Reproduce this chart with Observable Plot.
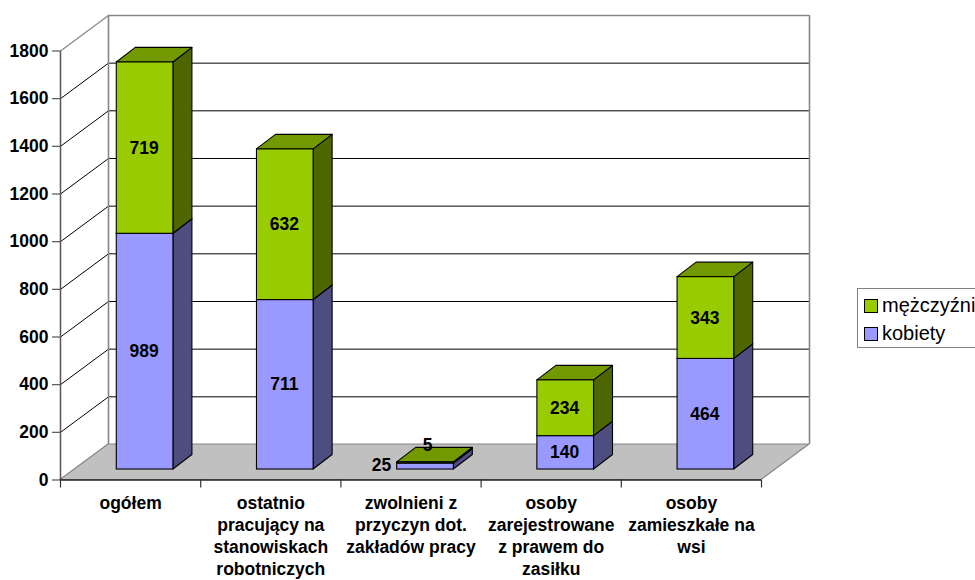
<!DOCTYPE html>
<html><head><meta charset="utf-8">
<script src="https://cdn.jsdelivr.net/npm/d3@7"></script>
<script src="https://cdn.jsdelivr.net/npm/@observablehq/plot@0.6"></script>
<style>
html,body{margin:0;padding:0;background:#fff;overflow:hidden;width:975px;height:580px}
#chart{position:relative;width:975px;height:580px;overflow:hidden}
#legend{position:absolute;left:857px;top:288px;width:140px;height:58px;border:1px solid #808080;box-sizing:content-box;font:20px "Liberation Sans",Arial,sans-serif;color:#000;background:#fff}
#legend div{position:absolute;left:6px;white-space:nowrap;line-height:20px;height:20px}
#legend i{display:inline-block;width:12px;height:12px;border:1px solid #000;margin-right:4px;vertical-align:-1px}
</style></head><body>
<div id="chart"></div>
<script>
const categories = ["ogółem","ostatnio\npracujący na\nstanowiskach\nrobotniczych","zwolnieni z\nprzyczyn dot.\nzakładów pracy","osoby\nzarejestrowane\nz prawem do\nzasiłku","osoby\nzamieszkałe na\nwsi"];
const kobiety = [989,711,25,140,464];
const mezczyzni = [719,632,5,234,343];
const yTicks = [0,200,400,600,800,1000,1200,1400,1600,1800];

// 3D projection constants, in scale units
const wallDx = 0.3424, wallDy = 149;
const offX = 0.1034, offY = 44;
const barW = 0.404, depthX = 0.1355, depthY = 61;
const n = categories.length;

const blue = {front:"#9999ff", side:"#4d4d80", top:"#7373bf"};
const green = {front:"#99cc00", side:"#4d6600", top:"#739900"};
const wallColor = "#868686";

const segments = [];
categories.forEach((c,i)=>{
  const x1 = i + (1-barW)/2 + offX, x2 = x1 + barW;
  segments.push({i,x1,x2,y1:offY,y2:offY+kobiety[i],v:kobiety[i],c:blue});
  segments.push({i,x1,x2,y1:offY+kobiety[i],y2:offY+kobiety[i]+mezczyzni[i],v:mezczyzni[i],c:green});
});

const barMarks = segments.flatMap(s=>{
  const edge = {stroke:"#000",strokeWidth:1.1,curve:"linear"};
  return [
    Plot.areaY([{x:s.x2,a:s.y1,b:s.y2},{x:s.x2+depthX,a:s.y1+depthY,b:s.y2+depthY}],{x:"x",y1:"a",y2:"b",fill:s.c.side,...edge}),
    Plot.areaX([{y:s.y2,a:s.x1,b:s.x2},{y:s.y2+depthY,a:s.x1+depthX,b:s.x2+depthX}],{y:"y",x1:"a",x2:"b",fill:s.c.top,...edge}),
    Plot.rect([s],{x1:"x1",x2:"x2",y1:"y1",y2:"y2",fill:s.c.front,stroke:"#000",strokeWidth:1.1})
  ];
});

const labelOpts = {fontSize:17.5,fontWeight:"bold",fill:"#000",dx:-1};
const labelAt = () => ({...labelOpts,x:d=>(d.x1+d.x2)/2,y:d=>(d.y1+d.y2)/2,text:d=>String(d.v)});
const normal = segments.filter(s=>s.i!==2);
const [small25, small5] = segments.filter(s=>s.i===2);

const chart = Plot.plot({
  width:975,height:580,
  marginLeft:60,marginRight:214,marginTop:50.5,marginBottom:100.5,
  style:{fontFamily:"'Liberation Sans',Arial,sans-serif",background:"#fff",color:"#000"},
  x:{domain:[0,n],axis:null},
  y:{domain:[0,1800],axis:null},
  marks:[
    // back wall
    Plot.ruleY(yTicks.filter(v=>v>0&&v<1800),{y:d=>d+wallDy,x1:wallDx,x2:n+wallDx,stroke:"#000",strokeWidth:1}),
    Plot.link(yTicks.filter(v=>v>0&&v<1800),{x1:0,x2:wallDx,y1:d=>d,y2:d=>d+wallDy,stroke:"#000",strokeWidth:1}),
    Plot.ruleY([1800+wallDy],{x1:wallDx,x2:n+wallDx,stroke:wallColor,strokeWidth:1.6}),
    Plot.link([1800],{x1:0,x2:wallDx,y1:d=>d,y2:d=>d+wallDy,stroke:wallColor,strokeWidth:1.2}),
    Plot.ruleX([wallDx,n+wallDx],{y1:wallDy,y2:1800+wallDy,stroke:wallColor,strokeWidth:1.6}),
    // floor
    Plot.areaX([{y:0,a:0,b:n},{y:wallDy,a:wallDx,b:n+wallDx}],{y:"y",x1:"a",x2:"b",fill:"#c0c0c0",stroke:wallColor,strokeWidth:1.2,curve:"linear"}),
    // axes
    Plot.ruleX([0],{y1:0,y2:1800,stroke:"#555",strokeWidth:1.5}),
    Plot.ruleY([0],{x1:0,x2:n,stroke:"#222",strokeWidth:1.5}),
    Plot.axisY(yTicks,{anchor:"left",tickSize:8,tickPadding:4,stroke:"#555",strokeWidth:1.2,fontSize:17.5,fontWeight:"bold",fill:"#000",label:null,tickFormat:d=>String(d)}),
    Plot.axisX(d3.range(n+1),{anchor:"bottom",tickSize:8,stroke:"#333",strokeWidth:1.2,tickFormat:()=>"",label:null}),
    Plot.axisX(categories.map((c,i)=>i+0.5),{anchor:"bottom",tickSize:0,tickPadding:13,fontSize:17.5,fontWeight:"bold",fill:"#000",lineHeight:1.27,lineAnchor:"top",tickFormat:d=>categories[d-0.5],label:null,textOverflow:null}),
    // bars
    ...barMarks,
    // data labels
    Plot.text(normal,labelAt()),
    Plot.text([small25],{...labelAt(),dx:-44,dy:-1}),
    Plot.text([small5],{...labelAt(),dx:2,dy:-18})
  ]
});
document.getElementById("chart").appendChild(chart);
const lg = document.createElement("div");
lg.id="legend";
lg.innerHTML='<div style="top:6px"><i style="background:'+green.front+'"></i>mężczyźni</div><div style="top:34px"><i style="background:'+blue.front+'"></i>kobiety</div>';
document.getElementById("chart").appendChild(lg);
</script>
</body></html>
